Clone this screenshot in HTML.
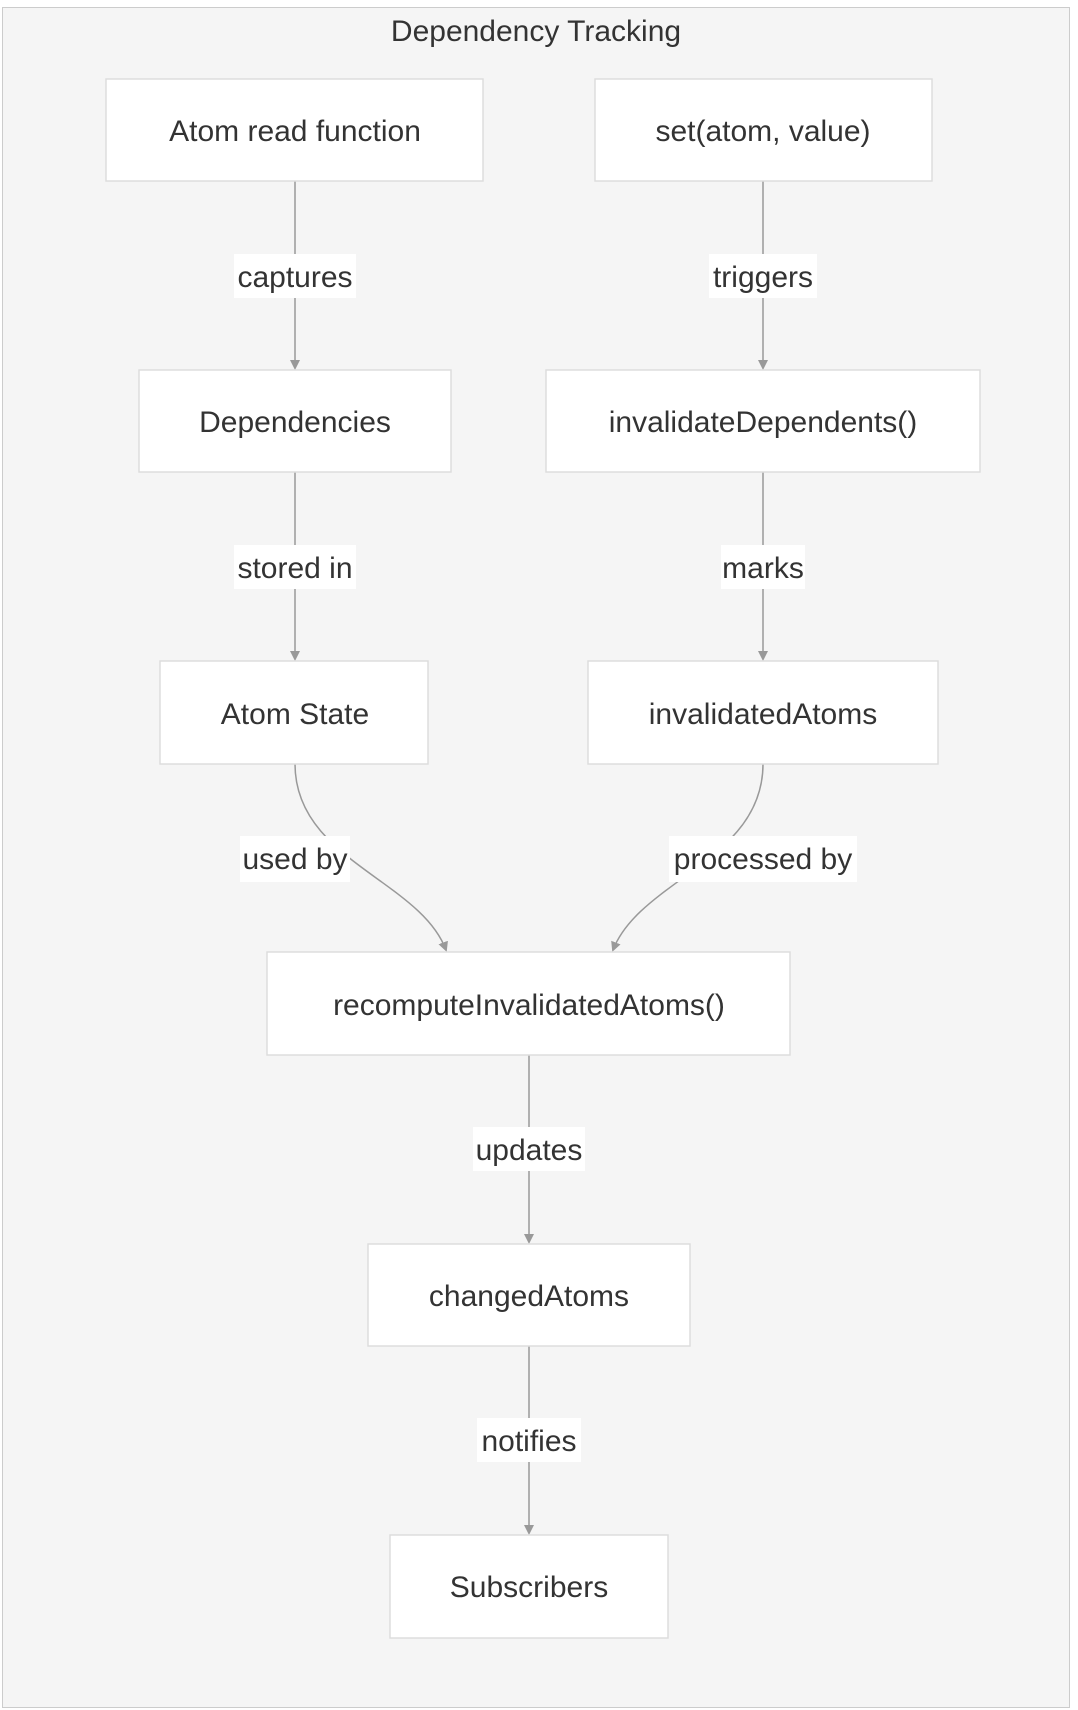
<!DOCTYPE html>
<html><head><meta charset="utf-8"><style>
html,body{margin:0;padding:0;background:#fff;}
svg{display:block;}
text{font-family:"Liberation Sans",sans-serif;fill:#333;}
</style></head><body>
<svg width="1078" height="1710" viewBox="0 0 1078 1710" xmlns="http://www.w3.org/2000/svg">
<defs><marker id="a" markerWidth="10" markerHeight="10" refX="8" refY="5" orient="auto" markerUnits="userSpaceOnUse"><path d="M0,0 L10,5 L0,10 z" fill="#999"/></marker></defs>
<rect x="2.5" y="7.5" width="1067" height="1700" fill="#f5f5f5" stroke="#ccc"/>
<text x="536" y="41" font-size="30" text-anchor="middle">Dependency Tracking</text>
<g stroke="#999" stroke-width="1.5" fill="none">
<path d="M295 181 V368" marker-end="url(#a)"/>
<path d="M763 181 V368" marker-end="url(#a)"/>
<path d="M295 472 V659" marker-end="url(#a)"/>
<path d="M763 472 V659" marker-end="url(#a)"/>
<path d="M295 764 C295 860, 420 880, 446 950" marker-end="url(#a)"/>
<path d="M763 764 C763 860, 640 880, 613 950" marker-end="url(#a)"/>
<path d="M529 1055 V1242" marker-end="url(#a)"/>
<path d="M529 1346 V1533" marker-end="url(#a)"/>
</g>
<g fill="#fff" stroke="#ddd" stroke-width="1.5">
<rect x="106" y="79" width="377" height="102"/>
<rect x="595" y="79" width="337" height="102"/>
<rect x="139" y="370" width="312" height="102"/>
<rect x="546" y="370" width="434" height="102"/>
<rect x="160" y="661" width="268" height="103"/>
<rect x="588" y="661" width="350" height="103"/>
<rect x="267" y="952" width="523" height="103"/>
<rect x="368" y="1244" width="322" height="102"/>
<rect x="390" y="1535" width="278" height="103"/>
</g>
<g font-size="30" text-anchor="middle">
<text x="295" y="141">Atom read function</text>
<text x="763" y="141">set(atom, value)</text>
<text x="295" y="432">Dependencies</text>
<text x="763" y="432">invalidateDependents()</text>
<text x="295" y="724">Atom State</text>
<text x="763" y="724">invalidatedAtoms</text>
<text x="529" y="1015">recomputeInvalidatedAtoms()</text>
<text x="529" y="1306">changedAtoms</text>
<text x="529" y="1597">Subscribers</text>
</g>
<g fill="#fff">
<rect x="234" y="254" width="122" height="44"/>
<rect x="709" y="254" width="108" height="44"/>
<rect x="234" y="545" width="122" height="44"/>
<rect x="721" y="545" width="84" height="44"/>
<rect x="240" y="836" width="110" height="46"/>
<rect x="669" y="836" width="188" height="46"/>
<rect x="473" y="1127" width="112" height="44"/>
<rect x="477" y="1418" width="104" height="44"/>
</g>
<g font-size="30" text-anchor="middle">
<text x="295" y="287">captures</text>
<text x="763" y="287">triggers</text>
<text x="295" y="578">stored in</text>
<text x="763" y="578">marks</text>
<text x="295" y="869">used by</text>
<text x="763" y="869">processed by</text>
<text x="529" y="1160">updates</text>
<text x="529" y="1451">notifies</text>
</g>
</svg>
</body></html>
